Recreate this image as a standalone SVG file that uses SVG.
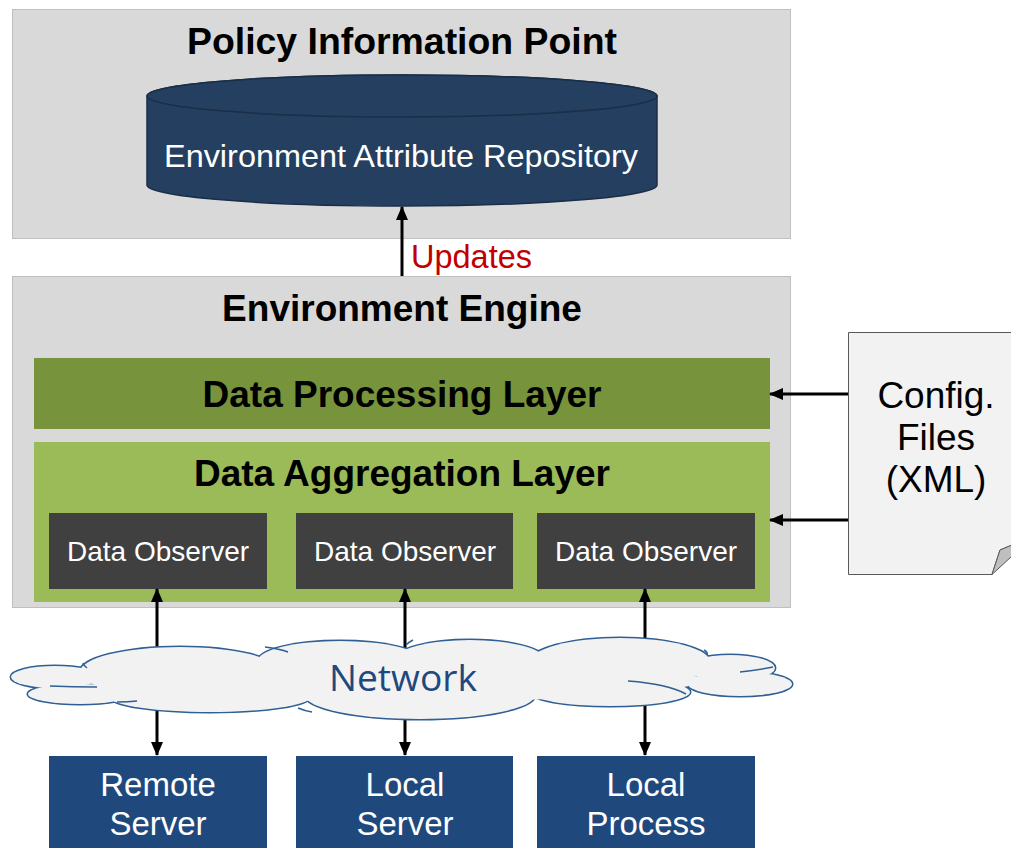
<svg xmlns="http://www.w3.org/2000/svg" width="1011" height="848" viewBox="0 0 1011 848">
  <style>
    .panel { fill: #d9d9d9; stroke: #bfbfbf; stroke-width: 1; }
    .title { font-family: "Liberation Sans", Arial, sans-serif; font-weight: bold; font-size: 37px; fill: #000; text-anchor: middle; }
    .white { font-family: "Liberation Sans", Arial, sans-serif; fill: #fff; text-anchor: middle; }
    .observer { fill: #404040; }
    .source { fill: #1f497d; }
    .conn { stroke: #000; stroke-width: 3; fill: none; }
    .cloud-edge ellipse { fill: none; stroke: #2f5f94; stroke-width: 3; }
    .cloud-fill ellipse { fill: #f2f2f2; stroke: none; }
  </style>
  <defs>
    <marker id="arrow" viewBox="0 0 14 12" refX="13" refY="6" markerWidth="14" markerHeight="12" markerUnits="userSpaceOnUse" orient="auto-start-reverse">
      <path d="M0,0 L14,6 L0,12 Z" fill="#000"/>
    </marker>
  </defs>

  <rect width="1011" height="848" fill="#fff"/>

  <!-- Policy Information Point -->
  <g id="pip">
    <rect class="panel" x="12.5" y="9.5" width="778" height="229"/>
    <text class="title" x="402" y="54" textLength="430" lengthAdjust="spacingAndGlyphs">Policy Information Point</text>
  </g>

  <!-- Repository cylinder -->
  <g id="repository">
    <path d="M147,96 L147,185 A255,21 0 0 0 657,185 L657,96 A255,21 0 0 0 147,96 Z" fill="#243f60" stroke="#1a2e47" stroke-width="1.5"/>
    <ellipse cx="402" cy="96" rx="255" ry="21" fill="#243f60" stroke="#1a2e47" stroke-width="1.5"/>
    <text class="white" x="401" y="167" font-size="32" textLength="474" lengthAdjust="spacingAndGlyphs">Environment Attribute Repository</text>
  </g>

  <!-- Environment Engine -->
  <g id="engine">
    <rect class="panel" x="12.5" y="276.5" width="778" height="331"/>
    <text class="title" x="402" y="321">Environment Engine</text>
  </g>

  <g id="processing-layer">
    <rect x="34" y="358" width="736" height="71" fill="#77933c"/>
    <text class="title" x="402" y="407">Data Processing Layer</text>
  </g>

  <g id="aggregation-layer">
    <rect x="34" y="442" width="736" height="160" fill="#9bbb59"/>
    <text class="title" x="402" y="486">Data Aggregation Layer</text>
  </g>

  <g id="observer-1">
    <rect class="observer" x="49" y="513" width="218" height="76"/>
    <text class="white" x="158" y="561" font-size="28">Data Observer</text>
  </g>
  <g id="observer-2">
    <rect class="observer" x="296" y="513" width="217" height="76"/>
    <text class="white" x="405" y="561" font-size="28">Data Observer</text>
  </g>
  <g id="observer-3">
    <rect class="observer" x="537" y="513" width="218" height="76"/>
    <text class="white" x="646" y="561" font-size="28">Data Observer</text>
  </g>

  <!-- Configuration document -->
  <g id="config-files">
    <path d="M848.5,332.5 L1012,332.5 L1012,545 L1000,550 L992,574.5 L848.5,574.5 Z" fill="#f2f2f2" stroke="#595959" stroke-width="1"/>
    <path d="M992,574.5 L1000,550 L1012,545 L1012,556 Z" fill="#bfbfbf" stroke="#595959" stroke-width="1"/>
    <g font-family="'Liberation Sans', Arial, sans-serif" font-size="37" fill="#000" text-anchor="middle">
      <text x="936" y="408">Config.</text>
      <text x="936" y="450">Files</text>
      <text x="936" y="492">(XML)</text>
    </g>
  </g>

  <!-- Data sources -->
  <g id="remote-server">
    <rect class="source" x="49" y="756" width="218" height="92"/>
    <text class="white" x="158" y="796" font-size="33">Remote</text>
    <text class="white" x="158" y="835" font-size="33">Server</text>
  </g>
  <g id="local-server">
    <rect class="source" x="296" y="756" width="217" height="92"/>
    <text class="white" x="405" y="796" font-size="33">Local</text>
    <text class="white" x="405" y="835" font-size="33">Server</text>
  </g>
  <g id="local-process">
    <rect class="source" x="537" y="756" width="218" height="92"/>
    <text class="white" x="646" y="796" font-size="33">Local</text>
    <text class="white" x="646" y="835" font-size="33">Process</text>
  </g>

  <!-- Connectors -->
  <g id="connectors">
    <line class="conn" x1="402" y1="276" x2="402" y2="207" marker-end="url(#arrow)"/>
    <line class="conn" x1="848" y1="394" x2="770" y2="394" marker-end="url(#arrow)"/>
    <line class="conn" x1="848" y1="520" x2="770" y2="520" marker-end="url(#arrow)"/>
    <line class="conn" x1="157" y1="589" x2="157" y2="755" marker-start="url(#arrow)" marker-end="url(#arrow)"/>
    <line class="conn" x1="405" y1="589" x2="405" y2="755" marker-start="url(#arrow)" marker-end="url(#arrow)"/>
    <line class="conn" x1="645" y1="589" x2="645" y2="755" marker-start="url(#arrow)" marker-end="url(#arrow)"/>
    <text x="411" y="268" font-family="'Liberation Sans', Arial, sans-serif" font-size="32.5" fill="#c00000">Updates</text>
  </g>

  <!-- Network cloud: outlined lobes, then the same lobes filled to leave only the outer edge -->
  <g id="network">
    <g class="cloud-edge">
      <ellipse cx="55" cy="677" rx="44" ry="11"/>
      <ellipse cx="80" cy="694" rx="52" ry="10"/>
      <ellipse cx="180" cy="672" rx="100" ry="25"/>
      <ellipse cx="210" cy="697" rx="100" ry="15"/>
      <ellipse cx="340" cy="661" rx="82" ry="20"/>
      <ellipse cx="470" cy="660" rx="75" ry="20"/>
      <ellipse cx="620" cy="662" rx="90" ry="24"/>
      <ellipse cx="730" cy="668" rx="45" ry="13"/>
      <ellipse cx="740" cy="684" rx="52" ry="12"/>
      <ellipse cx="610" cy="692" rx="80" ry="14"/>
      <ellipse cx="420" cy="695" rx="115" ry="24"/>
    </g>
    <g class="cloud-fill">
      <ellipse cx="55" cy="677" rx="44" ry="11"/>
      <ellipse cx="80" cy="694" rx="52" ry="10"/>
      <ellipse cx="180" cy="672" rx="100" ry="25"/>
      <ellipse cx="210" cy="697" rx="100" ry="15"/>
      <ellipse cx="340" cy="661" rx="82" ry="20"/>
      <ellipse cx="470" cy="660" rx="75" ry="20"/>
      <ellipse cx="620" cy="662" rx="90" ry="24"/>
      <ellipse cx="730" cy="668" rx="45" ry="13"/>
      <ellipse cx="740" cy="684" rx="52" ry="12"/>
      <ellipse cx="610" cy="692" rx="80" ry="14"/>
      <ellipse cx="420" cy="695" rx="115" ry="24"/>
      <ellipse cx="400" cy="680" rx="300" ry="22"/>
    </g>
    <!-- inner crease lines of the cloud -->
    <g fill="none" stroke="#2f5f94" stroke-width="1.5">
      <path d="M83,663 Q84,666 87,668"/>
      <path d="M50,686 Q72,687 97,687"/>
      <path d="M117,702 Q128,702 137,701"/>
      <path d="M265,647 Q280,649 288,652"/>
      <path d="M406,645 Q409,642 413,640"/>
      <path d="M704,650 Q708,652 707,655"/>
      <path d="M740,672 Q758,670 773,667"/>
      <path d="M628,681 Q668,684 686,694"/>
      <path d="M298,708 Q305,711 312,712"/>
    </g>
    <text x="403" y="691" font-family="'Open Sans', 'Noto Sans', sans-serif" font-size="37" fill="#1f497d" text-anchor="middle" textLength="148" lengthAdjust="spacingAndGlyphs">Network</text>
  </g>
</svg>
